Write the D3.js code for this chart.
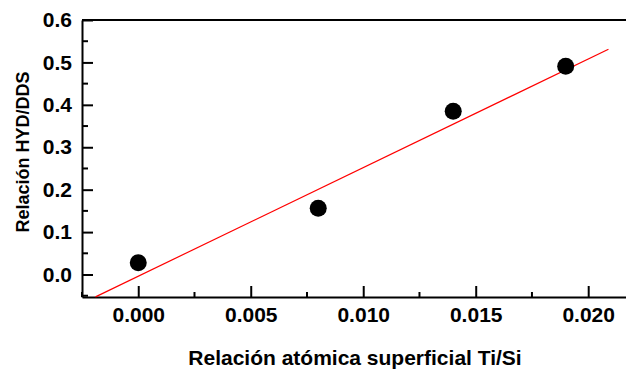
<!DOCTYPE html>
<html>
<head>
<meta charset="utf-8">
<script src="https://cdn.jsdelivr.net/npm/d3@7"></script>
<style>
  body { margin: 0; background: #fff; }
  svg { display: block; font-family: "Liberation Sans", Arial, sans-serif; font-weight: bold; }
</style>
</head>
<body>
<svg width="626" height="369"></svg>
<script>
(function() {
  // data
  var ratioTiSi = [0.000, 0.008, 0.014, 0.019],
      ratioHydDds = [0.028, 0.156, 0.385, 0.491],
      xTicks = [0.000, 0.005, 0.010, 0.015, 0.020],
      yTicks = [0.0, 0.1, 0.2, 0.3, 0.4, 0.5, 0.6],
      fitSlope = 25.6,
      fitIntercept = -0.004,
      fitRange = [-0.0019, 0.0209];

  var svg = d3.select("svg"),
      margin = {top: 20, right: 0, bottom: 72, left: 82},
      width = 626 - margin.left - margin.right,
      height = 369 - margin.top - margin.bottom;

  var x = d3.scaleLinear().domain([-0.0025, 0.02168]).range([0, width]),
      y = d3.scaleLinear().domain([-0.053, 0.6]).range([height, 0]);

  var g = svg.append("g")
    .attr("transform", "translate(" + margin.left + "," + margin.top + ")");

  // minor ticks
  var xMinor = d3.range(-0.0025, 0.0216, 0.0025).filter(function(d) {
        return Math.abs(Math.round(d / 0.005) * 0.005 - d) > 1e-6; }),
      yMinor = d3.range(0.05, 0.6, 0.1).concat([-0.05]);

  g.append("g").selectAll("line").data(xMinor).enter().append("line")
    .attr("x1", function(d) { return x(d); }).attr("x2", function(d) { return x(d); })
    .attr("y1", height).attr("y2", height - 5)
    .attr("stroke", "#000").attr("stroke-width", 2);

  g.append("g").selectAll("line").data(yMinor).enter().append("line")
    .attr("y1", function(d) { return y(d); }).attr("y2", function(d) { return y(d); })
    .attr("x1", 0).attr("x2", 6)
    .attr("stroke", "#000").attr("stroke-width", 2);

  var xAxis = g.append("g")
    .attr("transform", "translate(0," + height + ")")
    .call(d3.axisBottom(x).tickValues(xTicks).tickFormat(d3.format(".3f"))
      .tickSizeInner(-11).tickSizeOuter(0).tickPadding(10));

  var yAxis = g.append("g")
    .call(d3.axisLeft(y).tickValues(yTicks).tickFormat(d3.format(".1f"))
      .tickSizeInner(-11).tickSizeOuter(0).tickPadding(10));

  [xAxis, yAxis].forEach(function(a) {
    a.select(".domain").attr("stroke", "#000").attr("stroke-width", 2);
    a.selectAll(".tick line").attr("stroke", "#000").attr("stroke-width", 2);
    a.selectAll(".tick text").attr("fill", "#000")
      .style("font-size", "21px").style("font-family", "Liberation Sans, Arial, sans-serif")
      .style("font-weight", "bold");
  });

  // top frame line
  g.append("line")
    .attr("x1", 0).attr("x2", width).attr("y1", 0).attr("y2", 0)
    .attr("stroke", "#000").attr("stroke-width", 2);

  // fitted line
  g.append("line")
    .attr("x1", x(fitRange[0])).attr("y1", y(fitSlope * fitRange[0] + fitIntercept))
    .attr("x2", x(fitRange[1])).attr("y2", y(fitSlope * fitRange[1] + fitIntercept))
    .attr("stroke", "#ff0000").attr("stroke-width", 1.2);

  g.selectAll(".pt").data(ratioTiSi).enter().append("circle")
    .attr("class", "pt")
    .attr("cx", function(d) { return x(d); })
    .attr("cy", function(d, i) { return y(ratioHydDds[i]); })
    .attr("r", 8.5)
    .attr("fill", "#000");

  svg.append("text")
    .attr("x", 355).attr("y", 365)
    .attr("text-anchor", "middle")
    .style("font-size", "21px")
    .text("Relación atómica superficial Ti/Si");

  svg.append("text")
    .attr("transform", "translate(29,152) rotate(-90)")
    .attr("text-anchor", "middle")
    .style("font-size", "18px")
    .text("Relación HYD/DDS");
})();
</script>
</body>
</html>
